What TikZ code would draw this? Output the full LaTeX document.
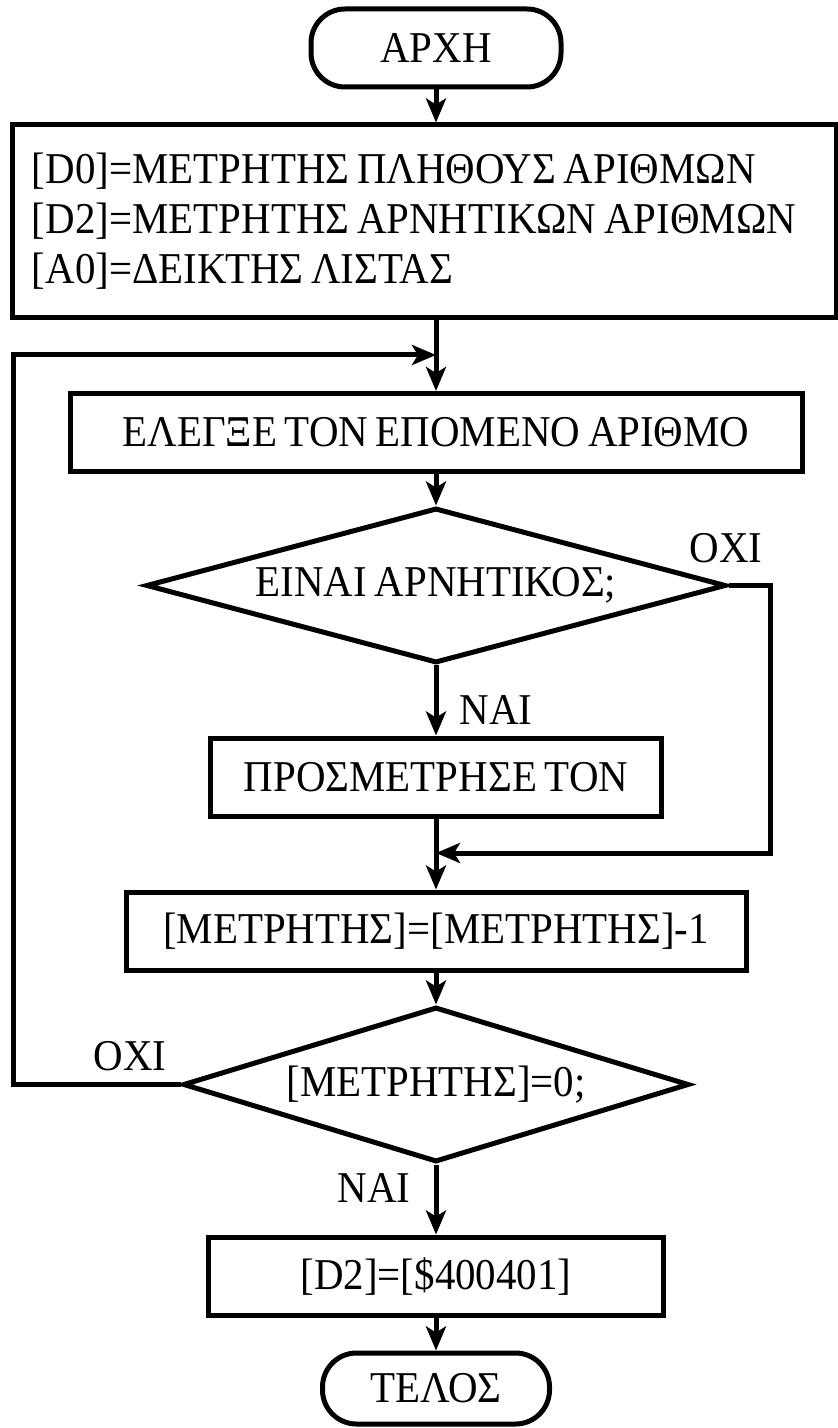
\documentclass[tikz,border=0pt]{standalone}
\usepackage{fontspec}
\setmainfont{Liberation Serif}[FakeStretch=0.93, WordSpace=0.75]
\usetikzlibrary{shapes.geometric,arrows.meta}
\begin{document}
\begin{tikzpicture}[x=0.5pt,y=-0.5pt,
  every node/.style={font=\fontsize{22pt}{25pt}\selectfont},
  base/.style={draw, line width=2.5pt, inner sep=0pt, align=center},
  terminal/.style={base, rounded corners=17pt, minimum width=125pt, minimum height=39pt},
  process/.style={base, minimum height=39pt},
  decision/.style={base, diamond, aspect=4},
  flow/.style={line width=2.5pt, -{Stealth[length=12pt,width=10pt,inset=3pt]}},
  lbl/.style={inner sep=0pt}
]
\useasboundingbox (0,0) rectangle (838,1428);

% blocks of the flowchart
\node[terminal] (start) at (436,48) {ΑΡΧΗ};
\node[process, minimum width=412pt, minimum height=96.5pt, text width=392pt, align=flush left]
  (init) at (424,221.5)
  {{[D0]}=ΜΕΤΡΗΤΗΣ ΠΛΗΘΟΥΣ ΑΡΙΘΜΩΝ\\
   {[D2]}=ΜΕΤΡΗΤΗΣ ΑΡΝΗΤΙΚΩΝ ΑΡΙΘΜΩΝ\\
   {[A0]}=ΔΕΙΚΤΗΣ ΛΙΣΤΑΣ};
\node[process, minimum width=366pt] (next) at (436,432.5) {ΕΛΕΓΞΕ ΤΟΝ ΕΠΟΜΕΝΟ ΑΡΙΘΜΟ};
\node[decision, minimum width=290pt, minimum height=77.5pt] (neg) at (436,585.5) {ΕΙΝΑΙ ΑΡΝΗΤΙΚΟΣ;};
\node[process, minimum width=225.5pt] (count) at (436,777) {ΠΡΟΣΜΕΤΡΗΣΕ ΤΟΝ};
\node[process, minimum width=310pt] (dec) at (436,931) {[ΜΕΤΡΗΤΗΣ]=[ΜΕΤΡΗΤΗΣ]-1};
\node[decision, minimum width=253pt, minimum height=77.5pt] (zero) at (436,1084.5) {[ΜΕΤΡΗΤΗΣ]=0;};
\node[process, minimum width=227.5pt] (store) at (436,1276) {[D2]=[\$400401]};
\node[terminal, minimum width=113.5pt, minimum height=35.5pt] (stop) at (436,1388.5) {ΤΕΛΟΣ};

% branch labels
\node[lbl] (no1) at (726,548) {ΟΧΙ};
\node[lbl] (yes1) at (496,710) {ΝΑΙ};
\node[lbl] (no2) at (130,1056) {ΟΧΙ};
\node[lbl] (yes2) at (374,1188) {ΝΑΙ};

% helper points for the loop and the merge
\coordinate (join) at (436,355);
\coordinate (loopl) at (13,355);
\coordinate (merge) at (436,853);
\coordinate (sider) at (770,853);

% connectors
\draw[flow] (start) -- (start |- init.north);
\draw[flow] (init.south -| next) -- (next);
\draw[flow] (next) -- (neg);
\draw[flow] (neg) -- (count);
\draw[flow] (neg.east) -- (neg.east -| sider) |- (merge);
\draw[flow] (count) -- (dec);
\draw[flow] (dec) -- (zero);
\draw[flow] (zero.west) -- (zero.west -| loopl) |- (join);
\draw[flow] (zero) -- (store);
\draw[flow] (store) -- (stop);
\end{tikzpicture}
\end{document}
